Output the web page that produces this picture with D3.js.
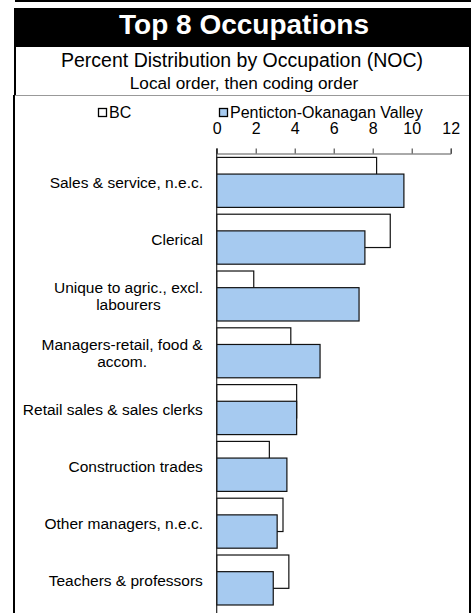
<!DOCTYPE html>
<html>
<head>
<meta charset="utf-8">
<script src="https://cdn.jsdelivr.net/npm/d3@7"></script>
<style>
  body { margin: 0; background: #fff; }
  svg { display: block; font-family: "Liberation Sans", Arial, sans-serif; }
</style>
</head>
<body>
<svg id="chart" width="476" height="613"></svg>
<script>
// chart data
const titleText = "Top 8 Occupations";
const subtitle1 = "Percent Distribution by Occupation (NOC)";
const subtitle2 = "Local order, then coding order";
const seriesNames = ["BC", "Penticton-Okanagan Valley"];
const categories = [
    "Sales & service, n.e.c.",
    "Clerical",
    "Unique to agric., excl.\nlabourers",
    "Managers-retail, food &\naccom.",
    "Retail sales & sales clerks",
    "Construction trades",
    "Other managers, n.e.c.",
    "Teachers & professors"
];
const bcValues = [8.2, 8.9, 1.9, 3.8, 4.1, 2.7, 3.4, 3.7];
const regionValues = [9.6, 7.6, 7.3, 5.3, 4.1, 3.6, 3.1, 2.9];
const tickValues = [0, 2, 4, 6, 8, 10, 12];

const svg = d3.select("#chart");

///// FRAME AND TITLES /////
svg.append("rect").attr("x", 15).attr("y", 0).attr("width", 456).attr("height", 2).attr("fill", "#000");
svg.append("rect").attr("x", 14).attr("y", 8).attr("width", 457).attr("height", 39).attr("fill", "#000");
// side borders of the subtitle and chart boxes
svg.append("rect").attr("x", 14).attr("y", 47).attr("width", 2).attr("height", 48).attr("fill", "#000");
svg.append("rect").attr("x", 469).attr("y", 47).attr("width", 2).attr("height", 48).attr("fill", "#000");
svg.append("rect").attr("x", 13).attr("y", 95).attr("width", 2).attr("height", 518).attr("fill", "#000");
svg.append("rect").attr("x", 469).attr("y", 95).attr("width", 2).attr("height", 518).attr("fill", "#000");
svg.append("line").attr("x1", 15).attr("x2", 469).attr("y1", 95.5).attr("y2", 95.5)
    .attr("stroke", "#999").attr("stroke-width", 1);

svg.append("text")
    .attr("x", 244).attr("y", 34)
    .attr("text-anchor", "middle")
    .style("font-size", "28px").style("font-weight", "bold")
    .attr("fill", "#fff")
    .text(titleText);
svg.append("text")
    .attr("x", 242).attr("y", 67)
    .attr("text-anchor", "middle")
    .style("font-size", "19.5px")
    .text(subtitle1);
svg.append("text")
    .attr("x", 244).attr("y", 89)
    .attr("text-anchor", "middle")
    .style("font-size", "17.2px")
    .text(subtitle2);

///// SCALES /////
const x = d3.scaleLinear().domain([0, 12]).range([216.7, 450.7]);
const y = d3.scaleBand()
    .domain(categories)
    .range([154, 608.4])
    .paddingInner(0.12)
    .paddingOuter(0.06);
const barH = y.bandwidth() * 2 / 3;   // two series overlapping by 50%
const colors = ["#ffffff", "#a6caf0"];

///// LEGEND /////
const legendX = [98, 219];
seriesNames.forEach(function(name, i) {
    svg.append("rect")
        .attr("x", legendX[i] + 0.5).attr("y", 108.5)
        .attr("width", 8).attr("height", 8)
        .attr("fill", colors[i]).attr("stroke", "#000").attr("stroke-width", 1.3);
    svg.append("text")
        .attr("x", legendX[i] + 11).attr("y", 118)
        .style("font-size", "16px")
        .text(name);
});

///// AXIS /////
const axisY = 153.5;
const xAxis = svg.append("g")
    .attr("transform", "translate(0," + axisY + ")")
    .call(d3.axisTop(x).tickValues(tickValues).tickSize(5).tickPadding(14.5).tickFormat(d3.format("d")));
xAxis.select(".domain").attr("stroke", "#555");
xAxis.selectAll(".tick line").attr("stroke", "#333");
xAxis.selectAll(".tick text")
    .style("font-size", "16px")
    .style("font-family", "'Liberation Sans', Arial, sans-serif")
    .attr("fill", "#000");

///// BARS /////
const rows = categories.map(function(c, i) { return {cat: c, bc: bcValues[i], region: regionValues[i]}; });

svg.append("g").selectAll("rect")
    .data(rows)
    .join("rect")
    .attr("x", x(0))
    .attr("y", d => y(d.cat))
    .attr("width", d => x(d.bc) - x(0))
    .attr("height", barH)
    .attr("fill", colors[0])
    .attr("stroke", "#111").attr("stroke-width", 1.2);

svg.append("g").selectAll("rect")
    .data(rows)
    .join("rect")
    .attr("x", x(0))
    .attr("y", d => y(d.cat) + y.bandwidth() / 3)
    .attr("width", d => x(d.region) - x(0))
    .attr("height", barH)
    .attr("fill", colors[1])
    .attr("stroke", "#111").attr("stroke-width", 1.2);

// vertical category axis line
svg.append("line")
    .attr("x1", x(0)).attr("x2", x(0))
    .attr("y1", axisY - 5).attr("y2", 613)
    .attr("stroke", "#222").attr("stroke-width", 1.2);

///// CATEGORY LABELS /////
const labelRight = 203, lineGap = 17.5;
const labels = svg.append("g").style("font-size", "15.5px");
rows.forEach(function(d) {
    const lines = d.cat.split("\n");
    const cy = y(d.cat) + y.bandwidth() / 2;
    const t = labels.append("text").attr("text-anchor", "middle");
    const first = cy + 5.5 - (lines.length - 1) * lineGap / 2;
    lines.forEach(function(line, j) {
        t.append("tspan").attr("x", 0).attr("y", first + j * lineGap).text(line);
    });
    // right-align the block, centre the lines inside it
    const w = t.node().getBBox().width;
    t.selectAll("tspan").attr("x", labelRight - w / 2);
});
</script>
</body>
</html>
